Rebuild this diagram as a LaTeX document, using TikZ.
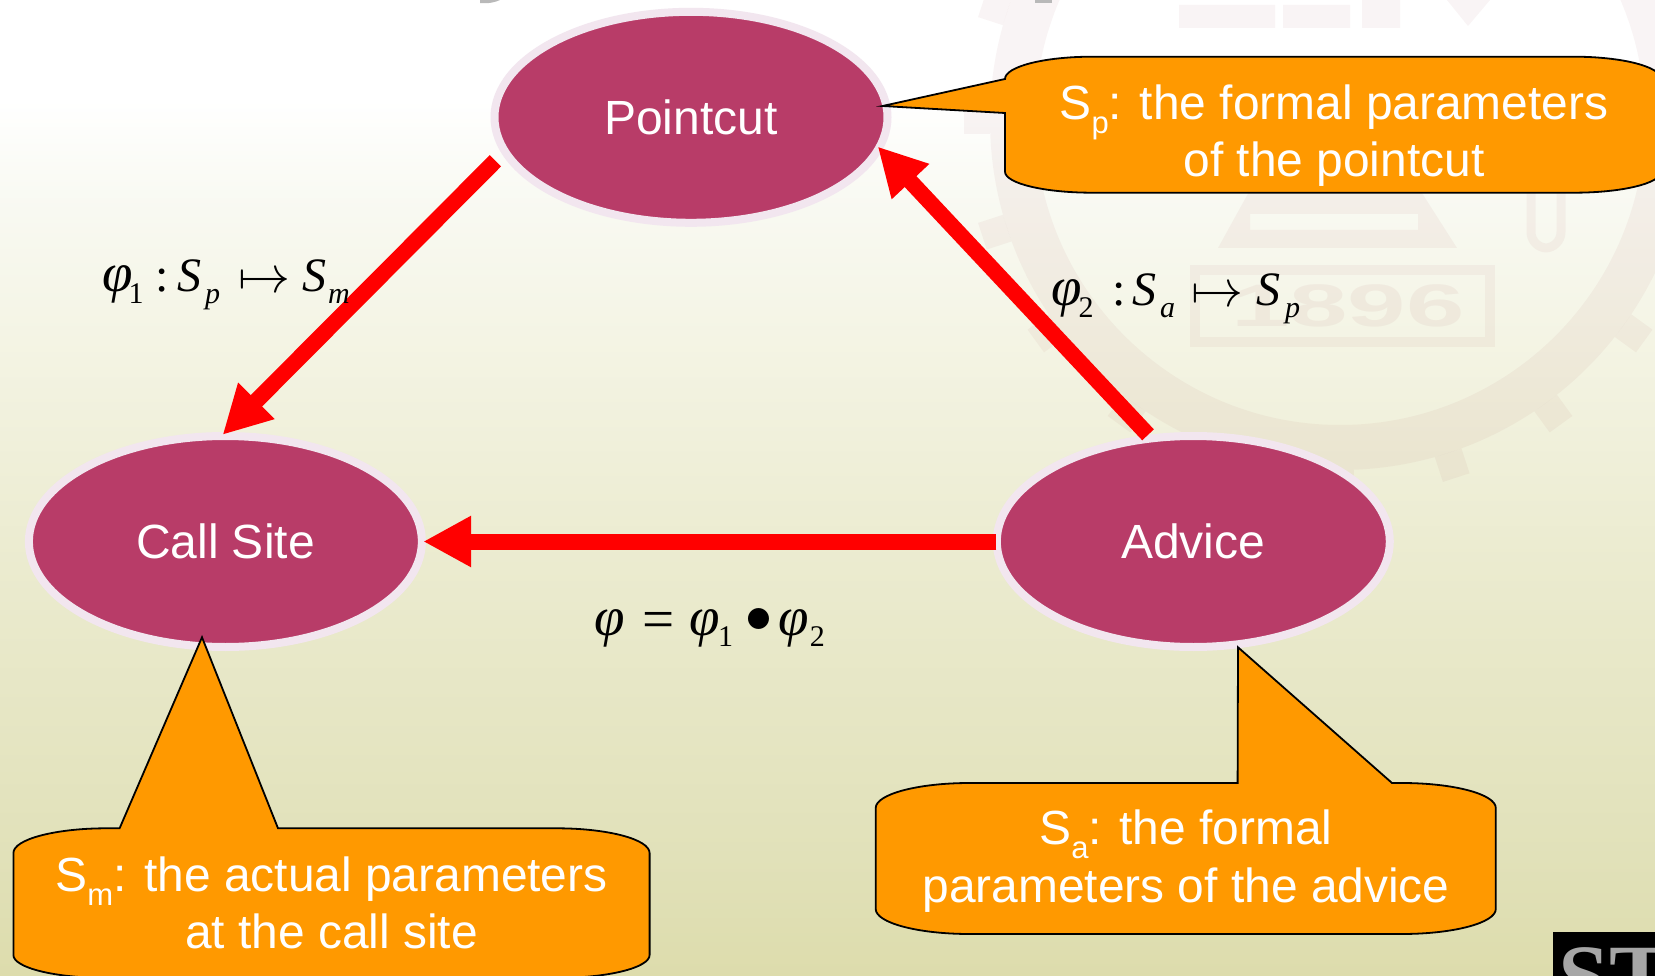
\documentclass[tikz,border=0pt]{standalone}
\usepackage{fontspec}
\setmainfont{Liberation Sans}
\newfontfamily\tms{Liberation Serif}
\usetikzlibrary{shapes.geometric,arrows.meta}
\definecolor{berry}{HTML}{B83C68}
\definecolor{halo}{HTML}{F2E6EF}
\definecolor{calloutfill}{HTML}{FF9900}
\definecolor{wmark}{RGB}{150,50,60}
\pgfdeclareverticalshading{bgshade}{100bp}{%
  rgb(0bp)=(0.867,0.863,0.675);
  rgb(25bp)=(0.867,0.863,0.675);
  rgb(31bp)=(0.882,0.882,0.725);
  rgb(47.3bp)=(0.925,0.925,0.82);
  rgb(57bp)=(0.955,0.955,0.89);
  rgb(64.8bp)=(0.975,0.978,0.95);
  rgb(69.9bp)=(1,1,1);
  rgb(100bp)=(1,1,1)}
\newcommand{\bigtxt}{\fontsize{47.9}{57.7}\selectfont}
\newcommand{\smalltxt}{\fontsize{31}{31}\selectfont}
\newcommand{\sbs}[1]{\raisebox{-14pt}{\smalltxt #1}}
\newcommand{\mbx}[2]{\makebox[#1pt][l]{#2}}
\newcommand{\mphi}{{\fontsize{55}{55}\selectfont\itshape φ}}
\newcommand{\mS}{{\itshape S}}
\newcommand{\msub}[1]{\raisebox{-11.7pt}{\fontsize{30}{30}\selectfont #1}}
\newcommand{\mmap}{\raisebox{-1pt}{\scalebox{5.2}{\normalsize$\mapsto$}}}
\newcommand{\mdot}{\raisebox{3pt}{\scalebox{5.4}{\normalsize$\bullet$}}}
\tikzset{
  place/.style={ellipse,draw=halo,line width=8pt,fill=berry,minimum width=393pt,minimum height=211pt,inner sep=0pt,text=white,font=\fontsize{48}{57}\selectfont},
  flow/.style={draw=red,line width=16pt,-{Triangle[length=48pt,width=48pt]}},
  bubble/.style={fill=calloutfill,draw=black,line width=1.8pt,line join=miter},
  bubbletext/.style={text=white,align=center,font=\bigtxt,inner sep=0pt},
  mathlabel/.style={anchor=base west,inner sep=0pt,font=\tms\fontsize{48}{48}\selectfont,text=black},
  wm/.style={fill=wmark,fill opacity=.05}
}
\begin{document}
\begin{tikzpicture}[x=1pt,y=-1pt]
\path[use as bounding box,clip] (0,0) rectangle (1655,976);
\shade[shading=bgshade] (0,0) rectangle (1655,976);
% watermark
\fill[wm,even odd rule] (1340,120) circle[radius=350pt] (1340,120) circle[radius=305pt];
\foreach \a in {0,18,...,342}{
  \fill[wm,rotate around={\a:(1340,120)}] (1326,470) rectangle (1354,496);
}
\fill[wm,even odd rule] (1218,248) -- (1457,248) -- (1420,190) -- (1250,190) -- cycle (1250,214) rectangle (1418,230);
\draw[draw=wmark,draw opacity=.05,line width=9pt,rounded corners=16pt] (1531,170) rectangle (1561,248);
\draw[draw=wmark,draw opacity=.05,line width=10pt] (1195,270) rectangle (1490,342);
\node[inner sep=0pt,text=wmark,text opacity=.06,font=\bfseries\fontsize{60}{60}\selectfont] (wmyear) at (1348,306) {\scalebox{1.75}[1]{1896}};
\fill[wm] (1179,5) rectangle (1275,28) (1283,5) rectangle (1350,28) (1362,0) rectangle (1400,28);
\fill[wm] (1447,0) -- (1490,0) -- (1468,26) -- cycle;
% cut-off pieces at the edges
\fill[gray!55] (480,0) -- (500,0) .. controls (496,2) and (488,4) .. (480,3) -- cycle;
\fill[gray!55] (1035,0) rectangle (1052,3);
\fill[black] (1553,932) rectangle (1655,976);
\node[anchor=base west,inner sep=0pt,text=gray!70,font=\tms\bfseries\fontsize{92}{92}\selectfont] (logo) at (1558,1008) {ST};
% places
\node[place] (pc) at (691,117.3) {Pointcut};
\node[place] (cs) at (225.4,541.5) {Call Site};
\node[place] (ad) at (1193.3,541.5) {Advice};
% connectors
\draw[flow,shorten <=9.5pt,shorten >=-4pt] (pc.191.9) -- (cs.north);
\draw[flow,shorten >=-6pt] (ad.113) -- (pc.-10.7);
\draw[flow,shorten <=-3.5pt,shorten >=-2.7pt] (ad.west) -- (cs.east);
% callouts
\draw[bubble] (882.6,106) -- (1005,79) arc[start angle=180,end angle=90,x radius=87pt,y radius=22.3pt]
  -- (1574,56.7) arc[start angle=90,end angle=0,x radius=87pt,y radius=22.3pt]
  -- (1661,171.7) arc[start angle=0,end angle=-90,x radius=87pt,y radius=21pt]
  -- (1092,192.7) arc[start angle=-90,end angle=-180,x radius=87pt,y radius=21pt]
  -- (1005,113) -- cycle;
\node[bubbletext] (sp) at (1334,135.7) {S\sbs{p}: the formal parameters\\of the pointcut};
\draw[bubble] (13.4,853) arc[start angle=180,end angle=90,x radius=93pt,y radius=24.7pt]
  -- (119.6,828.3) -- (202,637.3) -- (278,828.3)
  -- (556.6,828.3) arc[start angle=90,end angle=0,x radius=93pt,y radius=24.7pt]
  -- (649.6,955) arc[start angle=0,end angle=-90,x radius=93pt,y radius=23pt]
  -- (106.4,978) arc[start angle=-90,end angle=-180,x radius=93pt,y radius=23pt] -- cycle;
\node[bubbletext] (sm) at (331.5,903) {S\sbs{m}: the actual parameters\\at the call site};
\draw[bubble] (875.7,808) arc[start angle=180,end angle=90,x radius=94pt,y radius=25pt]
  -- (1237.6,783) -- (1238,647.3) -- (1392,783)
  -- (1401.8,783) arc[start angle=90,end angle=0,x radius=94pt,y radius=25pt]
  -- (1495.8,909) arc[start angle=0,end angle=-90,x radius=94pt,y radius=25pt]
  -- (969.7,934) arc[start angle=-90,end angle=-180,x radius=94pt,y radius=25pt] -- cycle;
\node[bubbletext] (sa) at (1186,861) {S\sbs{a}: the formal\\parameters of the advice};
% math labels
\node[mathlabel] (m1) at (102,292) {\mbx{26.5}{\mphi}\mbx{26.5}{\msub{1}}\mbx{22}{:}\mbx{28}{\mS}\mbx{33}{\msub{\itshape p}}\mbx{64.7}{\mmap}\mbx{25.3}{\mS}\msub{\itshape m}};
\node[mathlabel] (m2) at (1051,306) {\mbx{27.5}{\mphi}\mbx{33.5}{\msub{2}}\mbx{20}{:}\mbx{28}{\mS}\mbx{31}{\msub{\itshape a}}\mbx{65}{\mmap}\mbx{29}{\mS}\msub{\itshape p}};
\node[mathlabel] (m3) at (594.7,635) {\mbx{47.7}{\mphi}\mbx{46.6}{\raisebox{-3pt}{\fontsize{57}{57}\selectfont =}}\mbx{29}{\mphi}\mbx{27.7}{\msub{1}}\mbx{32.3}{\mdot}\mbx{31.7}{\mphi}\msub{2}};
\end{tikzpicture}
\end{document}
